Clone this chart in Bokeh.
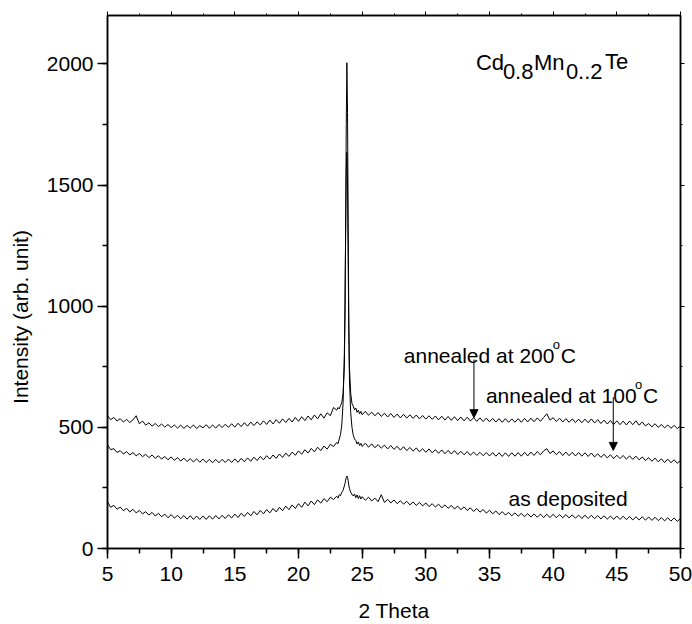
import numpy as np
from bokeh.plotting import figure
from bokeh.models import (Range1d, SingleIntervalTicker, LinearAxis, Label, Arrow, NormalHead,
                          CustomJSTickFormatter)
from bokeh.embed import file_html
from bokeh.resources import INLINE

# 2-theta scan positions (deg): coarse grid away from the peak, fine grid across it
x_left = np.round(np.arange(5.0, 22.76, 0.25), 2)
x_peak = [23.0, 23.1, 23.2, 23.3, 23.4, 23.5, 23.6, 23.65, 23.7, 23.75, 23.8, 23.85,
          23.9, 23.95, 24.0, 24.1, 24.2, 24.3, 24.4, 24.5, 24.6, 24.7, 24.8, 24.9]
x_right = np.round(np.arange(25.0, 50.01, 0.25), 2)

# annealed at 200 C
t200_left = [548, 532, 541, 526, 536, 522, 533, 520, 531, 548, 515, 526, 509, 519, 505, 516,
             503, 514, 501, 512, 499, 510, 497, 509, 496, 508, 497, 510, 495, 507, 498, 511,
             496, 510, 497, 512, 499, 513, 500, 515, 501, 517, 503, 519, 505, 522, 507, 523,
             510, 527, 512, 530, 514, 532, 517, 535, 520, 537, 522, 541, 525, 544, 528, 547,
             531, 551, 535, 556, 538, 560, 548, 582]
t200_peak = [571, 582, 576, 590, 602, 640, 750, 950, 1300, 1750, 2005, 1800,
             1350, 950, 750, 640, 598, 588, 572, 580, 562, 571, 556, 566]
t200_right = [552, 566, 550, 563, 548, 561, 545, 558, 543, 557, 541, 555, 539, 554, 538, 552,
              537, 551, 535, 549, 534, 548, 533, 547, 531, 546, 530, 545, 529, 544, 528, 543,
              527, 542, 526, 540, 525, 539, 524, 538, 523, 537, 522, 536, 521, 536, 521, 535,
              521, 536, 521, 537, 522, 538, 523, 539, 525, 541, 556, 530, 540, 524, 538, 522,
              536, 521, 535, 520, 534, 519, 534, 519, 535, 518, 532, 516, 530, 514, 528, 512,
              527, 511, 526, 510, 526, 511, 527, 509, 522, 506, 516, 502, 515, 500, 512, 498,
              510, 496, 508, 495, 506]

# annealed at 100 C
t100_left = [428, 408, 412, 396, 404, 390, 400, 386, 396, 383, 392, 379, 389, 375, 386, 372,
             383, 369, 380, 366, 378, 364, 375, 361, 373, 359, 371, 357, 370, 356, 369, 355,
             368, 354, 368, 354, 368, 355, 369, 355, 370, 356, 372, 358, 374, 360, 377, 363,
             380, 366, 383, 369, 386, 372, 390, 376, 394, 380, 398, 385, 403, 389, 408, 394,
             413, 399, 418, 404, 423, 410, 430, 421]
t100_peak = [438, 432, 452, 470, 510, 600, 800, 1000, 1300, 1550, 1635, 1500,
             1200, 900, 700, 560, 500, 468, 452, 446, 431, 440, 425, 434]
t100_right = [421, 435, 418, 432, 416, 429, 414, 427, 411, 425, 409, 422, 406, 420, 404, 417,
              402, 415, 399, 412, 397, 411, 395, 408, 393, 407, 391, 405, 390, 404, 388, 401,
              387, 400, 385, 398, 384, 397, 383, 396, 382, 396, 381, 395, 380, 395, 380, 395,
              381, 396, 381, 397, 382, 398, 384, 400, 387, 403, 412, 392, 403, 387, 400, 384,
              398, 383, 397, 382, 396, 381, 395, 380, 394, 378, 391, 376, 389, 374, 387, 371,
              385, 371, 384, 369, 382, 368, 381, 366, 378, 363, 375, 360, 373, 358, 370, 355,
              369, 354, 366, 352, 363]

# as deposited
dep_left = [192, 170, 178, 162, 171, 156, 166, 151, 162, 147, 157, 143, 152, 138, 149, 134,
            145, 131, 142, 127, 140, 125, 137, 123, 136, 121, 135, 120, 134, 120, 134, 120,
            135, 121, 136, 122, 137, 124, 139, 126, 142, 128, 145, 132, 149, 135, 153, 139,
            157, 143, 161, 147, 165, 151, 170, 156, 175, 160, 180, 165, 185, 170, 191, 176,
            196, 181, 201, 187, 206, 193, 212, 202]
dep_peak = [216, 208, 222, 218, 232, 240, 258, 268, 282, 292, 299, 294,
            280, 262, 248, 232, 224, 217, 225, 210, 221, 206, 218, 204]
dep_right = [214, 199, 212, 196, 208, 193, 222, 190, 203, 188, 200, 185, 197, 183, 195, 180,
             192, 178, 190, 176, 188, 173, 185, 171, 183, 168, 180, 166, 178, 163, 175, 160,
             172, 157, 168, 153, 165, 150, 161, 146, 158, 143, 155, 140, 152, 138, 149, 135,
             147, 133, 145, 131, 144, 130, 143, 129, 142, 128, 141, 128, 141, 127, 140, 127,
             140, 126, 139, 125, 138, 124, 137, 124, 137, 123, 136, 122, 135, 121, 134, 120,
             134, 120, 133, 119, 132, 118, 131, 118, 131, 117, 130, 116, 129, 115, 128, 114,
             127, 113, 126, 112, 124]

x_all = np.concatenate([x_left, x_peak, x_right])
series = {
    "200": t200_left + t200_peak + t200_right,
    "100": t100_left + t100_peak + t100_right,
    "dep": dep_left + dep_peak + dep_right,
}
for k, v in series.items():
    assert len(v) == len(x_all), (k, len(v), len(x_all))

FONT = "Liberation Sans"

p = figure(width=692, height=624, x_range=Range1d(5, 50), y_range=Range1d(0, 2200),
           output_backend="svg", toolbar_location=None,
           min_border_left=107, min_border_right=12, min_border_top=15, min_border_bottom=76)
p.background_fill_color = "white"
p.border_fill_color = "white"
p.xgrid.visible = False
p.ygrid.visible = False
p.outline_line_color = "black"
p.outline_line_width = 1.5

p.xaxis.ticker = SingleIntervalTicker(interval=5, num_minor_ticks=2)
p.yaxis.ticker = SingleIntervalTicker(interval=500, num_minor_ticks=2)
for ax in (p.xaxis[0], p.yaxis[0]):
    ax.axis_line_color = "black"
    ax.axis_line_width = 1.5
    ax.major_tick_line_width = 1.5
    ax.minor_tick_line_width = 1.5
    ax.major_tick_in = 0
    ax.major_tick_out = 10
    ax.minor_tick_in = 0
    ax.minor_tick_out = 5
    ax.major_label_text_font = FONT
    ax.major_label_text_font_size = "21px"
    ax.major_label_text_color = "black"
    ax.axis_label_text_font = FONT
    ax.axis_label_text_font_size = "21px"
    ax.axis_label_text_font_style = "normal"
    ax.axis_label_text_color = "black"
p.xaxis.axis_label = "2 Theta"
# trailing no-break spaces move the visible title down the axis, as in the original
p.yaxis.axis_label = "Intensity (arb. unit)" + "\u00a0" * 12
p.xaxis.major_label_standoff = 8
p.xaxis.axis_label_standoff = 15
p.yaxis.major_label_standoff = 4
p.yaxis.axis_label_standoff = 12

for loc, interval in (("right", 500), ("above", 5)):
    ax = LinearAxis(ticker=SingleIntervalTicker(interval=interval, num_minor_ticks=2),
                    formatter=CustomJSTickFormatter(code="return ''"))
    ax.major_label_standoff = 0
    ax.axis_line_width = 1.5
    ax.major_tick_in = 0
    ax.major_tick_out = 4
    ax.minor_tick_in = 0
    ax.minor_tick_out = 2
    ax.major_tick_line_width = 1
    ax.minor_tick_line_width = 1
    p.add_layout(ax, loc)

for k in ("200", "100", "dep"):
    p.line(x_all, series[k], line_color="black", line_width=1)

def lab(x, y, text, size, dx=0, dy=0):
    p.add_layout(Label(x=x, y=y, text=text, x_offset=dx, y_offset=dy,
                       text_font=FONT, text_font_size=size, text_color="black",
                       text_baseline="alphabetic", text_align="left"))

# formula
fx, fy = 33.93, 2008
lab(fx, fy, "Cd", "22px")
lab(fx, fy, "0.8", "22px", 27, -9)
lab(fx, fy, "Mn", "22px", 58)
lab(fx, fy, "0..2", "22px", 90, -9)
lab(fx, fy, "Te", "22px", 129, 1)

# annotations
for ax_, ay_, t in ((28.27, 797, "annealed at 200"), (34.72, 632, "annealed at 100")):
    lab(ax_, ay_, t, "21px")
    lab(ax_, ay_, "o", "13px", 149, 11)
    lab(ax_, ay_, "C", "21px", 157)
lab(36.5, 207, "as deposited", "21px")

p.add_layout(Arrow(end=NormalHead(size=8, fill_color="black", line_color="black"),
                   x_start=33.78, y_start=780, x_end=33.78, y_end=540,
                   line_color="black", line_width=1))
p.add_layout(Arrow(end=NormalHead(size=8, fill_color="black", line_color="black"),
                   x_start=44.72, y_start=625, x_end=44.72, y_end=405,
                   line_color="black", line_width=1))

open("out.html", "w").write(file_html(p, INLINE))
